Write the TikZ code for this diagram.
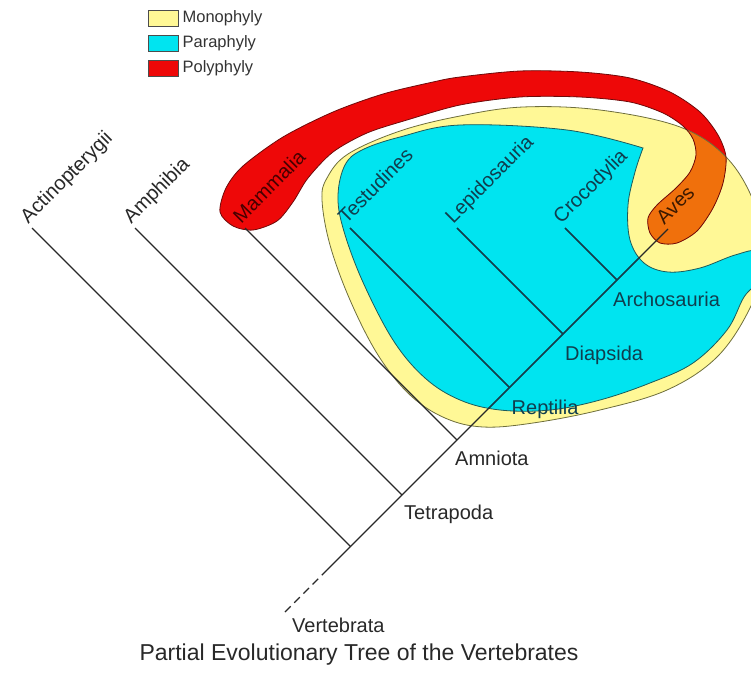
\documentclass[tikz,border=0pt]{standalone}
\usepackage{fontspec}
\setmainfont{Liberation Sans}
\usetikzlibrary{positioning}

\definecolor{monoyellow}{RGB}{255,248,150}
\definecolor{paracyan}{RGB}{0,228,240}
\definecolor{polyred}{RGB}{238,8,8}
\definecolor{polyorange}{RGB}{240,112,12}
\definecolor{treegray}{RGB}{40,40,40}
\definecolor{tealtext}{RGB}{16,62,78}
\definecolor{yellowedge}{RGB}{110,110,60}
\definecolor{cyanedge}{RGB}{30,90,90}
\definecolor{rededge}{RGB}{110,10,10}

% outlines of the three groups
\newcommand{\monoshape}{plot[smooth cycle, tension=0.6] coordinates {(322,200) (327,178) (348,154) (400,131) (460,116) (523,107) (600,110) (680,127) (727,158) (755,205) (766,258) (750,308) (717,357) (667,390) (600,410) (533,423) (483,427) (445,418) (410,395) (378,355) (350,300) (330,245)}}
\newcommand{\parashape}{plot[smooth, tension=0.6] coordinates {(643,148) (635,172) (628,205) (630,240) (644,263) (668,272) (700,268) (735,255) (758,252) (760,278) (744,297) (727,330) (693,363) (650,383) (600,400) (550,410) (500,410) (460,400) (425,378) (393,340) (362,280) (343,228) (338,195) (345,165) (362,150) (400,137) (460,125) (567,130) (643,148)} -- cycle}
\newcommand{\polyshape}{plot[smooth cycle, tension=0.5] coordinates {(220,212) (226,188) (243,166) (283,137) (333,112) (383,94) (433,82) (460,77) (520,71) (580,72) (630,78) (670,92) (700,112) (718,135) (726,157) (723,183) (713,208) (697,231) (677,243) (660,243) (650,233) (648,218) (657,205) (676,188) (690,172) (696,155) (693,139) (683,126) (663,113) (630,102) (580,97) (520,97) (460,105) (407,120) (367,133) (333,152) (308,178) (293,202) (277,221) (253,230) (233,226)}}

\begin{document}
\begin{tikzpicture}[x=1pt,y=-1pt,
	branch/.style={line width=1.2pt, draw=treegray},
	taxon/.style={anchor=south west, rotate=45, inner xsep=0pt, inner ysep=5pt, text depth=0pt},
	clade/.style={anchor=north west, inner sep=0pt},
	legbox/.style={draw=gray!60!black, line width=0.8pt, minimum width=30pt, minimum height=16pt, inner sep=0pt},
	legtext/.style={font=\fontsize{16.5}{19}\selectfont, text=black!80, inner sep=0pt, anchor=west}]
	\tikzstyle{every node}=[font=\fontsize{20}{24}\selectfont]
	
	\useasboundingbox (0,0) rectangle (751,675);
	\clip (0,0) rectangle (751,675);
	
	\fill[monoyellow] \monoshape;
	\draw[line width=0.8pt, fill=paracyan, draw=cyanedge] \parashape;
	\fill[polyred] \polyshape;
	\begin{scope}
		\clip \monoshape;
		\fill[polyorange] \polyshape;
	\end{scope}
	\draw[line width=0.8pt, draw=yellowedge] \monoshape;
	\draw[line width=0.8pt, draw=rededge] \polyshape;
	
	\coordinate (vert) at (285,612);
	\coordinate (dashend) at (327,570);
	\coordinate (jAct) at (350.5,546.5);
	\coordinate (jTet) at (402,495);
	\coordinate (jAmn) at (457,440);
	\coordinate (jRep) at (509.5,387.5);
	\coordinate (jDia) at (563,334);
	\coordinate (jArc) at (617,280);
	
	\coordinate (tAct) at (32,228);
	\coordinate (tAmp) at (135,228);
	\coordinate (tMam) at (245,228);
	\coordinate (tTes) at (350,228);
	\coordinate (tLep) at (457,228);
	\coordinate (tCro) at (565,228);
	\coordinate (tAve) at (668,229);
	
	\draw[branch, dash pattern=on 8pt off 5pt] (vert) -- (dashend);
	\draw[branch] (dashend) -- (tAve);
	\draw[branch] (tAct) -- (jAct);
	\draw[branch] (tAmp) -- (jTet);
	\draw[branch] (tMam) -- (jAmn);
	\draw[branch] (tTes) -- (jRep);
	\draw[branch] (tLep) -- (jDia);
	\draw[branch] (tCro) -- (jArc);
	
	% branches seen through the cyan
	\begin{scope}
		\clip \parashape;
		\draw[branch, draw=tealtext] (dashend) -- (tAve);
		\draw[branch, draw=tealtext] (tTes) -- (jRep);
		\draw[branch, draw=tealtext] (tLep) -- (jDia);
		\draw[branch, draw=tealtext] (tCro) -- (jArc);
	\end{scope}
	
	\node[taxon, text=treegray] (nAct) at (tAct) {Actinopterygii};
	\node[taxon, text=treegray] (nAmp) at (tAmp) {Amphibia};
	\node[taxon, text={rgb,255:red,70;green,0;blue,0}] (nMam) at (tMam) {Mammalia};
	\node[taxon, text=tealtext] (nTes) at (tTes) {Testudines};
	\node[taxon, text=tealtext] (nLep) at (tLep) {Lepidosauria};
	\node[taxon, text=tealtext] (nCro) at (tCro) {Crocodylia};
	\node[taxon, text={rgb,255:red,60;green,25;blue,0}] (nAve) at (tAve) {Aves};
	
	\node[clade, text=treegray, xshift=7pt, yshift=-6pt] (nVer) at (vert) {Vertebrata};
	\node[clade, text=treegray, xshift=2pt, yshift=-10pt] (nTet) at (jTet) {Tetrapoda};
	\node[clade, text=treegray, xshift=-2pt, yshift=-11pt] (nAmn) at (jAmn) {Amniota};
	\node[clade, text=tealtext, xshift=2pt, yshift=-12pt] (nRep) at (jRep) {Reptilia};
	\node[clade, text=tealtext, xshift=2pt, yshift=-12pt] (nDia) at (jDia) {Diapsida};
	\node[clade, text=tealtext, xshift=-4pt, yshift=-12pt] (nArc) at (jArc) {Archosauria};
	
	\node[anchor=base, text=treegray, font=\fontsize{23}{27}\selectfont] (title) at (359,660) {Partial Evolutionary Tree of the Vertebrates};
	
	\node[legbox, fill=monoyellow] (boxmono) at (163,18) {};
	\node[legbox, fill=paracyan, below=8.5pt of boxmono] (boxpara) {};
	\node[legbox, fill=polyred, below=8.5pt of boxpara] (boxpoly) {};
	\node[legtext, right=4pt of boxmono] (txtmono) {Monophyly};
	\node[legtext, right=4pt of boxpara] (txtpara) {Paraphyly};
	\node[legtext, right=4pt of boxpoly] (txtpoly) {Polyphyly};
	
\end{tikzpicture}
\end{document}
